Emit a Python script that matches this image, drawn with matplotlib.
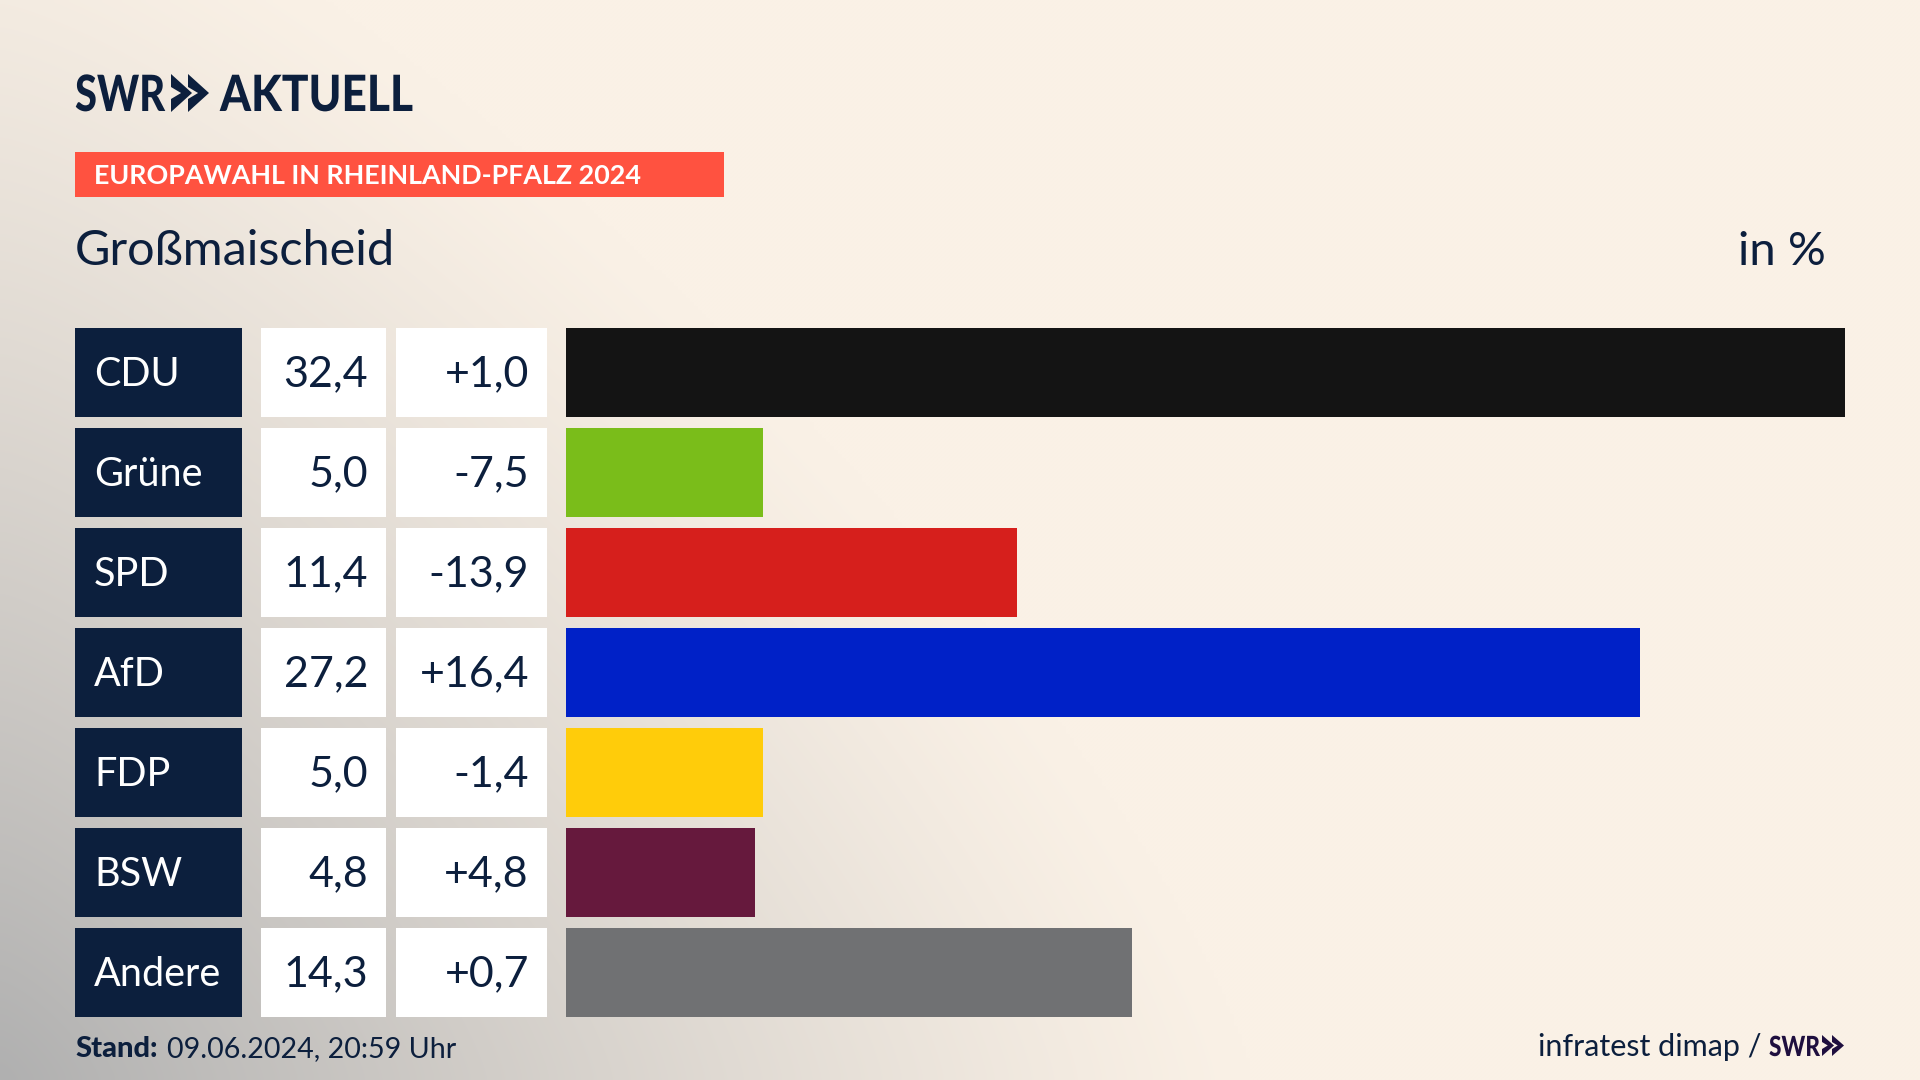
#!/usr/bin/env python
"""SWR Aktuell: Europawahl result for Grossmaischeid, one row per party."""
import matplotlib

matplotlib.use("Agg")
import matplotlib.pyplot as plt
import numpy as np
from matplotlib.patches import Polygon, Rectangle
from matplotlib.patheffects import AbstractPathEffect
from matplotlib.transforms import Affine2D

parties = ["CDU", "Grüne", "SPD", "AfD", "FDP", "BSW", "Andere"]
shares = [32.4, 5.0, 11.43, 27.2, 5.0, 4.8, 14.34]
changes = [1.0, -7.5, -13.9, 16.4, -1.4, 4.8, 0.7]
colors = ["#141414", "#7ABD1A", "#D61F1C", "#0021C7", "#FFCC0A", "#66193D", "#707173"]

NAVY = "#0C1F3D"
PURPLE = "#1F0F3F"
FONT = "Lato"
W, H = 1920, 1080
ROW_TOP, ROW_STEP, ROW_H = 328, 100, 88.5
BAR_X0, BAR_X1 = 566, 1845


class Squeeze(AbstractPathEffect):
    """Narrow a text horizontally about x0 (no condensed font installed)."""

    def __init__(self, x0, sx):
        super().__init__()
        self.tr = Affine2D().translate(-x0, 0).scale(sx, 1).translate(x0, 0)

    def draw_path(self, renderer, gc, tpath, affine, rgbFace=None):
        renderer.draw_path(gc, tpath, affine + self.tr, rgbFace)


def fmt(v, sign=False):
    s = f"{v:+.1f}" if sign else f"{v:.1f}"
    return s.replace(".", ",")


def background(ax):
    # cream with a grey glow out of the lower left corner
    yy, xx = np.mgrid[0:H:270j, 0:W:480j]
    d = ((xx / 1250) ** 1.3 + ((H - yy) / 1250) ** 1.3) ** (1 / 1.3)
    t = np.clip(1 - d, 0, 1) ** 1.2
    cream = np.array([250, 241, 230]) / 255
    grey = np.array([176, 176, 176]) / 255
    img = cream + (grey - cream) * t[..., None]
    ax.imshow(img, extent=[0, W, H, 0], aspect="auto", interpolation="bilinear", zorder=0)


def chevrons(ax, x, top, bot, w, gap, notch, color):
    mid = (top + bot) / 2
    for x0 in (x, x + gap):
        ax.add_patch(Polygon([(x0, top), (x0 + w, mid), (x0, bot), (x0, bot - notch),
                              (x0 + w * 0.48, mid), (x0, top + notch)],
                             closed=True, fc=color, ec="none", zorder=3))


def logo_text(ax, x, y, s, size, width, color):
    t = ax.text(x, y, s, family=FONT, fontweight="black", fontsize=size, color=color, va="baseline")
    actual = t.get_window_extent(fig.canvas.get_renderer()).width
    t.set_path_effects([Squeeze(x, width / actual)])


fig = plt.figure(figsize=(19.2, 10.8), dpi=100)
bg = fig.add_axes([0, 0, 1, 1])
background(bg)
bg.set_xlim(0, W)
bg.set_ylim(H, 0)
bg.axis("off")

# header
logo_text(bg, 75, 111, "SWR", 36, 90, NAVY)
chevrons(bg, 171, 74, 112, 21, 17, 13, NAVY)
logo_text(bg, 220, 111, "AKTUELL", 36, 193, NAVY)
bg.add_patch(Rectangle((75, 152), 649, 45, fc="#FF5240", ec="none"))
bg.text(94, 176, "EUROPAWAHL IN RHEINLAND-PFALZ 2024", family=FONT, fontweight="bold",
        fontsize=19.4, color="white", va="center")
bg.text(75, 265, "Großmaischeid", family=FONT, fontsize=35, color=NAVY, va="baseline")
bg.text(1826, 265, "in %", family=FONT, fontsize=34, color=NAVY, ha="right", va="baseline")

# table cells left of the bars
for i, (party, share, change) in enumerate(zip(parties, shares, changes)):
    top = ROW_TOP + i * ROW_STEP
    base = top + 58.5
    bg.add_patch(Rectangle((75, top), 167, ROW_H, fc=NAVY, ec="none"))
    bg.add_patch(Rectangle((261, top), 125, ROW_H, fc="white", ec="none"))
    bg.add_patch(Rectangle((396, top), 151, ROW_H, fc="white", ec="none"))
    bg.text(94, base, party, family=FONT, fontsize=28.5, color="white", va="baseline")
    bg.text(368, base, fmt(share), family=FONT, fontsize=31, color=NAVY, ha="right", va="baseline")
    bg.text(529, base, fmt(change, True), family=FONT, fontsize=31, color=NAVY, ha="right", va="baseline")

# footer
bg.text(75, 1057, "Stand:", family=FONT, fontweight="black", fontsize=21, color=NAVY, va="baseline")
bg.text(167, 1057, "09.06.2024, 20:59 Uhr", family=FONT, fontsize=20.6, color=NAVY, va="baseline")
bg.text(1762, 1056, "infratest dimap /", family=FONT, fontsize=22, color=NAVY, ha="right", va="baseline")
logo_text(bg, 1769, 1056, "SWR", 20, 51, PURPLE)
chevrons(bg, 1822, 1035, 1056, 12, 10, 7, PURPLE)

# bars
rows = np.arange(len(parties))
ax = fig.add_axes([BAR_X0 / W, 1 - (ROW_TOP + 6 * ROW_STEP + ROW_H) / H,
                   (BAR_X1 - BAR_X0) / W, (6 * ROW_STEP + ROW_H) / H])
ax.barh(rows, shares, height=ROW_H / ROW_STEP, color=colors)
ax.set_xlim(0, max(shares))
half = ROW_H / ROW_STEP / 2
ax.set_ylim(6 + half, -half)
ax.axis("off")

fig.savefig("out.png", dpi=100)
plt.close(fig)
